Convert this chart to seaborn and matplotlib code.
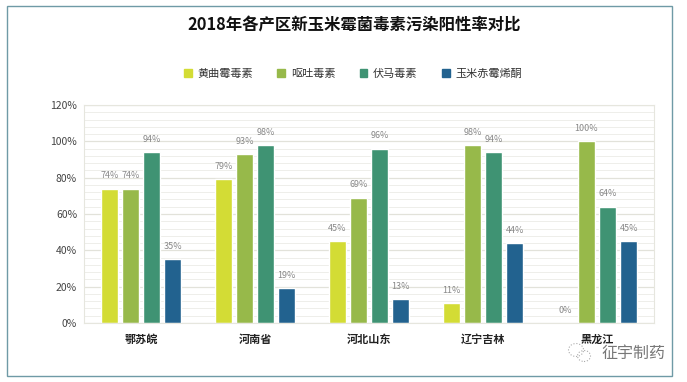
import pandas as pd
import seaborn as sns
import matplotlib.pyplot as plt
from matplotlib.patches import Rectangle, Ellipse

regions = ['鄂苏皖', '河南省', '河北山东', '辽宁吉林', '黑龙江']
toxins = ['黄曲霉毒素', '呕吐毒素', '伏马毒素', '玉米赤霉烯酮']
aflatoxin = [74, 79, 45, 11, 0]
don = [74, 93, 69, 98, 100]
fumonisin = [94, 98, 96, 94, 64]
zearalenone = [35, 19, 13, 44, 45]
colors = ['#d3dc35', '#97b94a', '#3f9373', '#22628f']

rows = []
for name, vals in zip(toxins, [aflatoxin, don, fumonisin, zearalenone]):
    for r, v in zip(regions, vals):
        rows.append({'region': r, 'toxin': name, 'rate': v})
df = pd.DataFrame(rows)

sns.set_style('white')
plt.rcParams['font.family'] = ['Noto Sans CJK SC', 'DejaVu Sans']

W, H = 687, 382
fig = plt.figure(figsize=(W / 100, H / 100), dpi=100)
fig.patch.set_facecolor('white')
fig.add_artist(Rectangle((7 / W, 1 - 376 / H), 665 / W, 370 / H, transform=fig.transFigure,
                         fill=False, edgecolor='#6f9aa6', lw=1))

ax = fig.add_axes([84 / W, 1 - 323 / H, 570 / W, 218 / H])
sns.barplot(data=df, x='region', y='rate', hue='toxin', hue_order=toxins, palette=colors,
            width=0.74, gap=0.18, saturation=1, legend=False, ax=ax)

ax.set_xlim(-0.5, 4.5)
ax.set_ylim(0, 120)
ax.set_yticks(range(0, 121, 20))
ax.set_yticklabels([f'{t}%' for t in range(0, 121, 20)], fontsize=7.5, color='#444444')
ax.set_yticks(range(0, 121, 4), minor=True)
ax.grid(which='major', axis='y', color='#e2e2da', lw=0.9)
ax.grid(which='minor', axis='y', color='#eeeeea', lw=0.7)
ax.set_axisbelow(True)
ax.tick_params(axis='y', length=0, pad=5, which='both')
ax.tick_params(axis='x', length=0, pad=7)
ax.set_xticks(range(len(regions)))
ax.set_xticklabels(regions, fontsize=8, fontweight='bold', color='#222222')
ax.set_xlabel('')
ax.set_ylabel('')
for s in ax.spines.values():
    s.set_color('#e6e6de')
    s.set_linewidth(0.8)

for c in ax.containers:
    ax.bar_label(c, fmt='%.0f%%', padding=6, fontsize=6.5, color='#888888')

fig.text(354 / W, 1 - 26 / H, '2018年各产区新玉米霉菌毒素污染阳性率对比', ha='center', va='center',
         fontsize=11.8, fontweight='bold', color='#111111')

handles = [Rectangle((0, 0), 1, 1, color=c) for c in colors]
fig.legend(handles, toxins, loc='center', bbox_to_anchor=(353 / W, 1 - 74 / H), ncol=4, frameon=False,
           fontsize=8, labelcolor='#333333', handlelength=0.7, handleheight=0.7,
           handletextpad=0.5, columnspacing=2.2)

# wechat mark, bottom right
fig.text(665 / W, 1 - 353 / H, '征宇制药', ha='right', va='center', fontsize=11.5, color='#777777')
fig.add_artist(Ellipse((576 / W, 1 - 350 / H), 15 / W, 13 / H, transform=fig.transFigure,
                       fill=False, edgecolor='#aaaaaa', lw=0.8, ls=':'))
fig.add_artist(Ellipse((584 / W, 1 - 356 / H), 13 / W, 11 / H, transform=fig.transFigure,
                       fill=False, edgecolor='#aaaaaa', lw=0.8, ls=':'))

fig.savefig('out.png', dpi=100)
